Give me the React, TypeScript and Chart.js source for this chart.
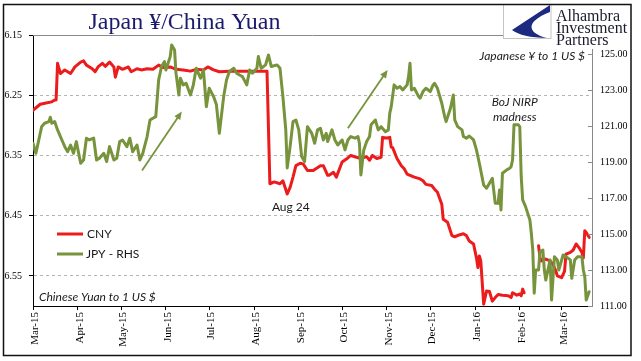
import React, { useEffect, useRef } from 'react';
import { Chart, registerables } from 'chart.js';

Chart.register(...registerables);

// x positions are days counted from 1 March 2015
const monthDays = [0, 31, 61, 92, 122, 153, 184, 214, 245, 275, 306, 337, 366];
const monthLabels = ['Mar-15', 'Apr-15', 'May-15', 'Jun-15', 'Jul-15', 'Aug-15', 'Sep-15', 'Oct-15', 'Nov-15', 'Dec-15', 'Jan-16', 'Feb-16', 'Mar-16'];
const cnyTicks = [6.15, 6.25, 6.35, 6.45, 6.55];
const jpyTicks = [111, 113, 115, 117, 119, 121, 123, 125];

const cnyDays = [
  0, 5, 9, 13, 15, 16, 17, 19, 22, 26,
  29, 33, 35, 37, 41, 43, 45, 48, 50, 53,
  56, 57, 59, 62, 66, 68, 72, 75, 79, 83,
  87, 90, 95, 99, 104, 109, 113, 118, 121, 125,
  129, 136, 148, 162, 164, 167, 171, 173, 176, 178,
  180, 182, 185, 187, 190, 194, 199, 201, 204, 205,
  208, 210, 214, 217, 220, 224, 227, 231, 233, 235,
  238, 241, 242, 245, 247, 248, 249, 252, 255, 257,
  259, 261, 264, 268, 270, 272, 276, 278, 280, 283,
  284, 287, 290, 292, 295, 298, 300, 302, 305, 307,
  308, 309, 310, 312, 314, 316, 318, 320, 322, 325,
  329, 331, 332, 335, 337, 338, 339, 340, 345, 350,
  351, 352, 355, 358, 360, 362, 363, 366, 368, 369,
  372, 374, 376, 378, 380, 381, 382, 383, 385,
];
const cnyValues = [
  6.275, 6.265, 6.263, 6.261, 6.258, 6.258, 6.197, 6.214, 6.208, 6.214,
  6.203, 6.195, 6.193, 6.200, 6.206, 6.211, 6.203, 6.197, 6.202, 6.195,
  6.203, 6.220, 6.203, 6.207, 6.203, 6.211, 6.206, 6.208, 6.206, 6.207,
  6.200, 6.204, 6.203, 6.207, 6.208, 6.210, 6.207, 6.208, 6.203, 6.208,
  6.211, 6.210, 6.210, 6.210, 6.397, 6.394, 6.397, 6.392, 6.414, 6.403,
  6.386, 6.367, 6.363, 6.364, 6.375, 6.375, 6.367, 6.367, 6.383, 6.383,
  6.378, 6.386, 6.361, 6.356, 6.350, 6.353, 6.355, 6.352, 6.358, 6.350,
  6.355, 6.353, 6.320, 6.321, 6.320, 6.336, 6.337, 6.355, 6.367, 6.372,
  6.381, 6.383, 6.386, 6.389, 6.392, 6.398, 6.400, 6.406, 6.411, 6.431,
  6.456, 6.461, 6.483, 6.485, 6.482, 6.480, 6.483, 6.492, 6.497, 6.520,
  6.536, 6.517, 6.525, 6.597, 6.575, 6.576, 6.592, 6.586, 6.581, 6.582,
  6.583, 6.586, 6.578, 6.582, 6.580, 6.583, 6.572, 6.578, null, 6.500,
  6.520, 6.525, 6.522, 6.525, 6.531, 6.542, 6.550, 6.553, 6.542, 6.514,
  6.511, 6.507, 6.497, 6.503, 6.511, 6.520, 6.475, 6.478, 6.486,
];

const jpyDays = [
  0, 2, 4, 6, 8, 11, 12, 13, 15, 17,
  20, 22, 24, 26, 28, 30, 33, 35, 37, 39,
  42, 44, 46, 49, 51, 53, 56, 58, 60, 62,
  65, 67, 69, 72, 74, 76, 79, 81, 83, 85,
  87, 89, 91, 92, 95, 96, 98, 99, 101, 102,
  104, 106, 109, 111, 113, 116, 118, 120, 122, 125,
  127, 129, 132, 134, 136, 139, 141, 143, 145, 148,
  150, 152, 155, 156, 158, 161, 163, 165, 169, 171,
  173, 175, 176, 178, 180, 182, 184, 186, 188, 190,
  193, 195, 197, 199, 201, 203, 204, 207, 209, 211,
  214, 216, 218, 220, 223, 225, 226, 227, 229, 231,
  233, 234, 237, 239, 241, 244, 246, 247, 248, 250,
  252, 254, 256, 259, 260, 261, 262, 264, 267, 268,
  270, 272, 275, 277, 278, 280, 283, 285, 286, 289,
  291, 292, 294, 297, 298, 300, 302, 305, 307, 309,
  312, 314, 316, 318, 320, 322, 323, 324, 325, 328,
  330, 331, 332, 333, 336, 337, 338, 339, 341, 344,
  345, 346, 347, 348, 350, 351, 353, 354, 355, 358,
  359, 361, 363, 364, 367, 369, 372, 373, 375, 377,
  380, 381, 382, 383, 385,
];
const jpyValues = [
  120.04, 119.48, 120.22, 120.96, 121.15, 121.24, 121.48, 121.15, 121.24, 120.78,
  120.22, 119.85, 119.57, 119.94, 119.48, 120.13, 118.93, 119.11, 120.32, 120.22,
  120.32, 119.11, 119.21, 119.48, 119.02, 119.85, 119.11, 119.21, 120.13, 120.22,
  119.85, 120.32, 119.57, 119.94, 119.11, 119.48, 120.41, 121.33, 121.43, 121.52,
  123.56, 124.30, 124.57, 124.11, 124.85, 125.50, 125.22, 123.93, 122.72, 123.65,
  123.28, 123.37, 122.72, 123.28, 124.20, 123.65, 124.11, 122.07, 123.09, 122.63,
  122.17, 120.59, 122.63, 123.56, 124.02, 124.20, 123.93, 123.83, 123.74, 123.28,
  124.11, 123.93, 124.20, 124.85, 124.20, 124.39, 124.94, 124.30, 124.39, 124.20,
  122.63, 120.78, 118.67, 119.85, 121.24, 121.33, 120.78, 119.30, 119.02, 120.96,
  120.59, 120.04, 120.78, 120.87, 120.22, 120.59, 120.13, 120.78, 120.22, 119.94,
  120.22, 119.67, 120.22, 120.41, 120.32, 120.41, 120.04, 118.28, 119.67, 120.13,
  120.41, 121.06, 121.33, 120.78, 120.96, 120.68, 120.78, 121.71, 122.07, 123.28,
  123.09, 123.19, 123.00, 123.28, 123.74, 124.48, 123.00, 123.09, 122.63, 122.54,
  122.91, 123.09, 122.91, 123.28, 123.37, 123.09, 122.26, 121.52, 121.24, 121.98,
  122.72, 121.33, 120.96, 120.78, 120.41, 120.32, 120.44, 120.22, 119.67, 118.93,
  117.72, 117.54, 117.82, 118.09, 116.71, 116.71, 117.44, 116.33, 118.37, 118.56,
  118.65, 118.74, 119.11, 121.06, 121.06, 120.96, 118.18, 116.89, 116.52, 115.78,
  115.04, 114.11, 111.71, 113.00, 113.00, 114.02, 114.11, 113.00, 112.44, 113.56,
  111.33, 113.74, 113.56, 113.00, 113.83, 113.74, 113.56, 112.54, 113.56, 113.74,
  113.74, 113.00, 112.63, 111.33, 111.79,
];

const RED = '#ec1c1c';
const OLIVE = '#77933c';
const SANS = 'Lato, "Open Sans", sans-serif';
const SERIF = '"Liberation Serif", "Times New Roman", serif';

const overlay = {
  id: 'overlay',
  afterDraw(chart: any) {
    const { ctx, chartArea: ca, scales } = chart;
    const sx = scales.x;
    const sy = scales.y;
    const sy1 = scales.y1;
    const X = (d: number) => sx.getPixelForValue(d);
    const Y = (v: number) => sy.getPixelForValue(v);
    ctx.save();

    // plot top border
    ctx.strokeStyle = '#8a8a8a';
    ctx.lineWidth = 1;
    ctx.beginPath();
    ctx.moveTo(ca.left, Math.round(ca.top) + 0.5);
    ctx.lineTo(ca.right, Math.round(ca.top) + 0.5);
    ctx.stroke();

    // right axis inner tick marks
    ctx.strokeStyle = '#8a8a8a';
    jpyTicks.forEach((t) => {
      const py = Math.round(sy1.getPixelForValue(t)) + 0.5;
      ctx.beginPath();
      ctx.moveTo(ca.right - 4, py);
      ctx.lineTo(ca.right, py);
      ctx.stroke();
    });

    // arrows
    const arrow = (d0: number, v0: number, d1: number, v1: number) => {
      const x0 = X(d0), y0 = Y(v0), x1 = X(d1), y1 = Y(v1);
      const a = Math.atan2(y1 - y0, x1 - x0);
      ctx.strokeStyle = OLIVE;
      ctx.fillStyle = OLIVE;
      ctx.lineWidth = 1.8;
      ctx.beginPath();
      ctx.moveTo(x0, y0);
      ctx.lineTo(x1 - 5 * Math.cos(a), y1 - 5 * Math.sin(a));
      ctx.stroke();
      ctx.beginPath();
      ctx.moveTo(x1, y1);
      ctx.lineTo(x1 - 8 * Math.cos(a) + 3.5 * Math.sin(a), y1 - 8 * Math.sin(a) - 3.5 * Math.cos(a));
      ctx.lineTo(x1 - 8 * Math.cos(a) - 3.5 * Math.sin(a), y1 - 8 * Math.sin(a) + 3.5 * Math.cos(a));
      ctx.closePath();
      ctx.fill();
    };
    arrow(75.5, 6.375, 103, 6.277);
    arrow(218, 6.305, 245.5, 6.208);

    // annotations
    ctx.fillStyle = '#1a1a1a';
    ctx.textBaseline = 'middle';
    ctx.font = `12px ${SANS}`;
    ctx.textAlign = 'center';
    ctx.fillText('Aug 24', X(178.5), Y(6.435));
    ctx.font = `italic 12px ${SANS}`;
    ctx.fillText('BoJ NIRP', X(333.5), Y(6.261));
    ctx.fillText('madness', X(333.5), Y(6.287));
    ctx.textAlign = 'right';
    ctx.fillText('Japanese \u00a5 to 1 US $', 585, 56);
    ctx.textAlign = 'left';
    ctx.fillText('Chinese Yuan to 1 US $', 39, 297);

    // legend
    ctx.lineWidth = 3;
    ctx.lineCap = 'butt';
    ctx.strokeStyle = RED;
    ctx.beginPath();
    ctx.moveTo(57, 234);
    ctx.lineTo(83, 234);
    ctx.stroke();
    ctx.strokeStyle = OLIVE;
    ctx.beginPath();
    ctx.moveTo(57, 254);
    ctx.lineTo(83, 254);
    ctx.stroke();
    ctx.font = `12px ${SANS}`;
    ctx.fillStyle = '#1a1a1a';
    ctx.fillText('CNY', 87, 234);
    ctx.fillText('JPY - RHS', 86, 254);

    // logo block
    ctx.fillStyle = '#ffffff';
    ctx.fillRect(503, 5, 127, 44);
    ctx.strokeStyle = '#c4c4c4';
    ctx.lineWidth = 1;
    ctx.strokeRect(503.5, 4.5, 47.5, 34);
    ctx.fillStyle = '#1c2a80';
    ctx.beginPath();
    ctx.moveTo(550, 5);
    ctx.lineTo(512, 30);
    ctx.quadraticCurveTo(522, 37.5, 547, 38);
    ctx.bezierCurveTo(530, 34, 522, 23, 550, 12);
    ctx.closePath();
    ctx.fill();
    ctx.fillStyle = '#1a1a2e';
    ctx.textAlign = 'left';
    ctx.textBaseline = 'alphabetic';
    ctx.font = `16px ${SERIF}`;
    ctx.fillText('Alhambra', 556, 20.5);
    ctx.fillText('Investment', 556, 32.5);
    ctx.fillText('Partners', 556, 44.5);

    // title
    ctx.fillStyle = '#1b1b6e';
    ctx.textAlign = 'center';
    ctx.font = `24px ${SERIF}`;
    ctx.fillText('Japan \u00a5/China Yuan', 184.5, 29);

    // outer frame
    ctx.strokeStyle = '#111111';
    ctx.lineWidth = 1.5;
    ctx.strokeRect(3.5, 4.5, 627.5, 351);

    ctx.restore();
  },
};

export default function App() {
  const ref = useRef<HTMLCanvasElement>(null);

  useEffect(() => {
    const canvas = ref.current;
    if (!canvas) return;
    const cnyData = cnyDays.map((d, i) => ({ x: d, y: cnyValues[i] }));
    const jpyData = jpyDays.map((d, i) => ({ x: d, y: jpyValues[i] }));

    const chart = new Chart(canvas, {
      type: 'line',
      data: {
        datasets: [
          {
            label: 'CNY',
            data: cnyData as any,
            yAxisID: 'y',
            borderColor: RED,
            borderWidth: 3,
            pointRadius: 0,
            spanGaps: false,
            order: 1,
          },
          {
            label: 'JPY - RHS',
            data: jpyData as any,
            yAxisID: 'y1',
            borderColor: OLIVE,
            borderWidth: 3,
            pointRadius: 0,
            order: 0,
          },
        ],
      },
      options: {
        responsive: false,
        animation: false,
        devicePixelRatio: 1,
        parsing: false as any,
        layout: { padding: { left: 0, right: 0, top: 35, bottom: 0 } },
        elements: {
          line: { tension: 0, borderJoinStyle: 'round', borderCapStyle: 'round' },
          point: { radius: 0 },
        },
        plugins: {
          legend: { display: false },
          tooltip: { enabled: false },
          title: { display: false },
        },
        scales: {
          x: {
            type: 'linear',
            min: 0,
            max: 387,
            afterBuildTicks: (s: any) => {
              s.ticks = monthDays.map((v) => ({ value: v }));
            },
            afterFit: (s: any) => {
              s.height = 55;
            },
            ticks: {
              autoSkip: false,
              maxRotation: 90,
              minRotation: 90,
              padding: 2,
              labelOffset: 2,
              color: '#000',
              font: { family: SERIF, size: 11 },
              callback: (_v: any, i: number) => monthLabels[i],
            },
            grid: { display: true, drawOnChartArea: false, tickLength: 4, tickColor: '#000' },
            border: { display: true, color: '#000', width: 1 },
          },
          y: {
            position: 'left',
            reverse: true,
            min: 6.15,
            max: 6.6,
            afterBuildTicks: (s: any) => {
              s.ticks = cnyTicks.map((v) => ({ value: v }));
            },
            afterFit: (s: any) => {
              s.width = 33;
            },
            ticks: {
              padding: 7,
              color: '#000',
              font: { family: SERIF, size: 10 },
              callback: (v: any) => Number(v).toFixed(2),
            },
            grid: {
              drawOnChartArea: true,
              color: (c: any) => (c.index === 0 ? 'rgba(0,0,0,0)' : '#b4b4b4'),
              tickLength: 4,
              tickColor: '#000',
              lineWidth: 1,
            },
            border: { display: true, color: '#000', width: 1, dash: [3, 3] },
          },
          y1: {
            position: 'right',
            min: 111,
            max: 126.05,
            afterBuildTicks: (s: any) => {
              s.ticks = jpyTicks.map((v) => ({ value: v }));
            },
            afterFit: (s: any) => {
              s.width = 49;
            },
            ticks: {
              padding: 8,
              color: '#000',
              font: { family: SERIF, size: 10 },
              callback: (v: any) => Number(v).toFixed(2),
            },
            grid: { display: false, drawTicks: false },
            border: { display: true, color: '#888888', width: 1 },
          },
        },
      } as any,
      plugins: [overlay],
    });

    return () => chart.destroy();
  }, []);

  return (
    <div style={{ position: 'absolute', left: 0, top: 0, width: 641, height: 361, background: '#fff' }}>
      <canvas ref={ref} width={641} height={361} style={{ display: 'block', width: 641, height: 361 }} />
    </div>
  );
}
